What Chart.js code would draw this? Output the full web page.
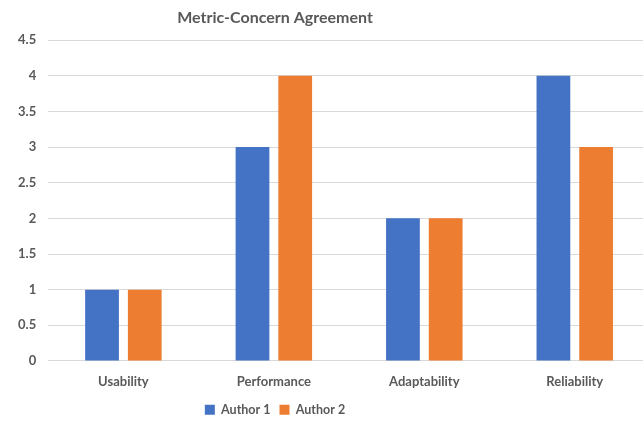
<!DOCTYPE html>
<html>
<head>
<meta charset="utf-8">
<script src="https://cdn.jsdelivr.net/npm/chart.js@4"></script>
<style>
  html, body { margin: 0; padding: 0; background: #fff; overflow: hidden; }
  #wrap { width: 650px; height: 426px; }
</style>
</head>
<body>
<div id="wrap"><canvas id="chartAgreement"></canvas></div>
<script>
// Data
const categories = ["Usability", "Performance", "Adaptability", "Reliability"];
const author1 = [1, 3, 2, 4];
const author2 = [1, 4, 2, 3];
const seriesNames = ["Author 1", "Author 2"];

const gray = "#595959";
const font = "Lato, 'Open Sans', sans-serif";

// the original picture is cropped on the right: move title + legend back left
const shiftBoxes = {
    id: "shiftBoxes",
    afterLayout(chart) {
        const dx = -53;
        [chart.titleBlock, chart.legend].forEach(b => {
            if (b) { b.left += dx; b.right += dx; }
        });
    }
};

const ctx = document.getElementById("chartAgreement");
new Chart(ctx, {
    type: "bar",
    data: {
        labels: categories,
        datasets: [
            { label: seriesNames[0], data: author1, backgroundColor: "#4472C4" },
            { label: seriesNames[1], data: author2, backgroundColor: "#ED7D31" }
        ]
    },
    options: {
        responsive: true,
        maintainAspectRatio: false,
        animation: false,
        datasets: { bar: { categoryPercentage: 0.568, barPercentage: 0.79 } },
        layout: { padding: { left: 6, right: 0, top: 6, bottom: 0 } },
        scales: {
            x: {
                grid: { display: false },
                border: { display: false },
                ticks: { color: gray, font: { family: font, size: 13, weight: "bold" }, padding: 5 }
            },
            y: {
                min: 0, max: 4.5,
                ticks: {
                    stepSize: 0.5, color: gray, padding: 12,
                    font: { family: font, size: 13, weight: "bold" },
                    callback: v => String(v)
                },
                grid: { color: "#d9d9d9", drawTicks: false },
                border: { display: false }
            }
        },
        plugins: {
            title: {
                display: true,
                text: "Metric-Concern Agreement",
                color: gray,
                font: { family: font, size: 16, weight: "bold" },
                padding: { top: 2, bottom: 13 }
            },
            legend: {
                position: "bottom",
                labels: {
                    color: gray,
                    font: { family: font, size: 12.5, weight: "bold" },
                    boxWidth: 10, boxHeight: 10, padding: 9
                }
            },
            tooltip: { enabled: false }
        }
    },
    plugins: [shiftBoxes]
});
</script>
</body>
</html>
